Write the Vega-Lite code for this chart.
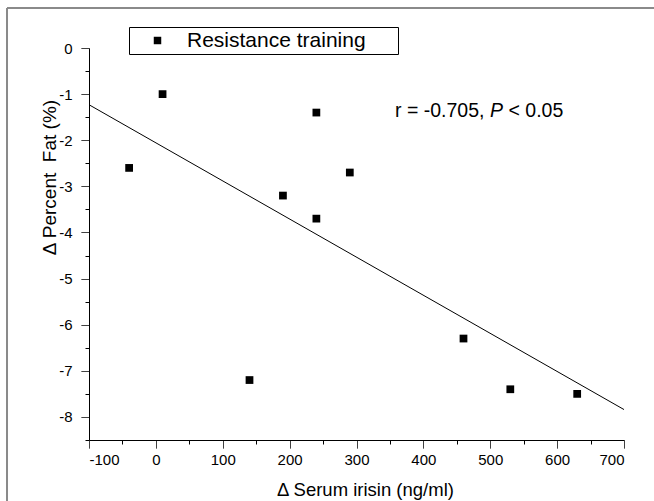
{
  "$schema": "https://vega.github.io/schema/vega-lite/v6.json",
  "width": 535,
  "height": 392,
  "autosize": {"type": "none"},
  "padding": {"left": 89, "top": 48, "right": 30, "bottom": 61},
  "background": "white",
  "config": {
    "view": {"stroke": null},
    "font": "Liberation Sans",
    "axis": {
      "grid": false,
      "domainColor": "black",
      "domainWidth": 1,
      "tickColor": "black",
      "tickWidth": 1,
      "labelColor": "black",
      "labelFont": "Liberation Sans",
      "labelFontSize": 15,
      "titleFont": "Liberation Sans",
      "titleFontWeight": "normal",
      "titleColor": "black"
    }
  },
  "datasets": {
    "points": [
      {"serum_irisin": -40, "percent_fat": -2.6, "group": "Resistance training"},
      {"serum_irisin": 10, "percent_fat": -1.0, "group": "Resistance training"},
      {"serum_irisin": 140, "percent_fat": -7.2, "group": "Resistance training"},
      {"serum_irisin": 190, "percent_fat": -3.2, "group": "Resistance training"},
      {"serum_irisin": 240, "percent_fat": -1.4, "group": "Resistance training"},
      {"serum_irisin": 240, "percent_fat": -3.7, "group": "Resistance training"},
      {"serum_irisin": 290, "percent_fat": -2.7, "group": "Resistance training"},
      {"serum_irisin": 460, "percent_fat": -6.3, "group": "Resistance training"},
      {"serum_irisin": 530, "percent_fat": -7.4, "group": "Resistance training"},
      {"serum_irisin": 630, "percent_fat": -7.5, "group": "Resistance training"}
    ],
    "fit": [
      {"serum_irisin": -100, "percent_fat": -1.23},
      {"serum_irisin": 700, "percent_fat": -7.84}
    ]
  },
  "layer": [
    {
      "data": {"name": "points"},
      "mark": {"type": "point", "shape": "square", "filled": true, "size": 60, "opacity": 1},
      "encoding": {
        "x": {
          "field": "serum_irisin",
          "type": "quantitative",
          "scale": {"domain": [-100, 700], "nice": false, "zero": false},
          "axis": {
            "title": "Δ Serum irisin (ng/ml)",
            "values": [-100, -50, 0, 50, 100, 150, 200, 250, 300, 350, 400, 450, 500, 550, 600, 650, 700],
            "tickCount": 100,
            "labelOverlap": false,
            "labelExpr": "abs(datum.value % 100) < 0.01 ? '' + datum.value : ''",
            "tickSize": 8,
            "tickDash": {"condition": {"test": "abs(datum.value % 100) < 0.01", "value": [1, 0]}, "value": [4, 20]},
            "labelPadding": 4,
            "titleFontSize": 18.5,
            "titleBaseline": "alphabetic",
            "titleX": 276,
            "titleY": 55
          }
        },
        "y": {
          "field": "percent_fat",
          "type": "quantitative",
          "scale": {"domain": [-8.5, 0], "nice": false, "zero": false},
          "axis": {
            "title": "Δ Percent\u00a0 Fat (%)",
            "values": [-8.5, -8, -7.5, -7, -6.5, -6, -5.5, -5, -4.5, -4, -3.5, -3, -2.5, -2, -1.5, -1, -0.5, 0],
            "tickCount": 100,
            "labelExpr": "abs(datum.value - round(datum.value)) < 0.01 ? '' + datum.value : ''",
            "tickSize": 8,
            "tickDash": {"condition": {"test": "abs(datum.value - round(datum.value)) < 0.01", "value": [1, 0]}, "value": [4, 20]},
            "labelPadding": 9,
            "labelOverlap": false,
            "titleFontSize": 19,
            "titleAngle": 270,
            "titleAlign": "center",
            "titleBaseline": "alphabetic",
            "titleX": -34,
            "titleY": 129
          }
        },
        "color": {
          "field": "group",
          "type": "nominal",
          "scale": {"range": ["black"]},
          "legend": {
            "title": null,
            "orient": "none",
            "legendX": 40,
            "legendY": -21,
            "strokeColor": "black",
            "fillColor": "white",
            "padding": 3,
            "symbolType": "square",
            "symbolSize": 56,
            "symbolStrokeWidth": 0,
            "symbolOffset": 15,
            "labelOffset": 19,
            "labelFontSize": 21,
            "labelFont": "Liberation Sans",
            "labelColor": "black",
            "labelLimit": 400,
            "labelExpr": "datum.label + '\u00a0\u00a0\u00a0\u00a0\u00a0\u200b'"
          }
        }
      }
    },
    {
      "data": {"values": [{}]},
      "mark": {"type": "rule", "color": "#8a8a8a", "strokeWidth": 2},
      "encoding": {
        "x": {"datum": -222.6, "type": "quantitative"},
        "y": {"datum": 0.87, "type": "quantitative"},
        "y2": {"datum": -20}
      }
    },
    {
      "data": {"values": [{}]},
      "mark": {"type": "rule", "color": "#8a8a8a", "strokeWidth": 2},
      "encoding": {
        "x": {"datum": -222.6, "type": "quantitative"},
        "x2": {"datum": 1000},
        "y": {"datum": 0.87, "type": "quantitative"}
      }
    },
    {
      "data": {"name": "fit"},
      "mark": {"type": "line", "color": "black", "strokeWidth": 1},
      "encoding": {
        "x": {"field": "serum_irisin", "type": "quantitative"},
        "y": {"field": "percent_fat", "type": "quantitative"}
      }
    },
    {
      "data": {"values": [{}]},
      "mark": {"type": "text", "text": "r = -0.705,", "align": "left", "baseline": "alphabetic", "fontSize": 19.5, "font": "Liberation Sans", "color": "black"},
      "encoding": {
        "x": {"datum": 357.6, "type": "quantitative"},
        "y": {"datum": -1.5, "type": "quantitative"}
      }
    },
    {
      "data": {"values": [{}]},
      "mark": {"type": "text", "text": "P", "align": "left", "baseline": "alphabetic", "fontSize": 19.5, "fontStyle": "italic", "font": "Liberation Sans", "color": "black"},
      "encoding": {
        "x": {"datum": 499.5, "type": "quantitative"},
        "y": {"datum": -1.5, "type": "quantitative"}
      }
    },
    {
      "data": {"values": [{}]},
      "mark": {"type": "text", "text": "< 0.05", "align": "left", "baseline": "alphabetic", "fontSize": 19.5, "font": "Liberation Sans", "color": "black"},
      "encoding": {
        "x": {"datum": 527.3, "type": "quantitative"},
        "y": {"datum": -1.5, "type": "quantitative"}
      }
    }
  ]
}
